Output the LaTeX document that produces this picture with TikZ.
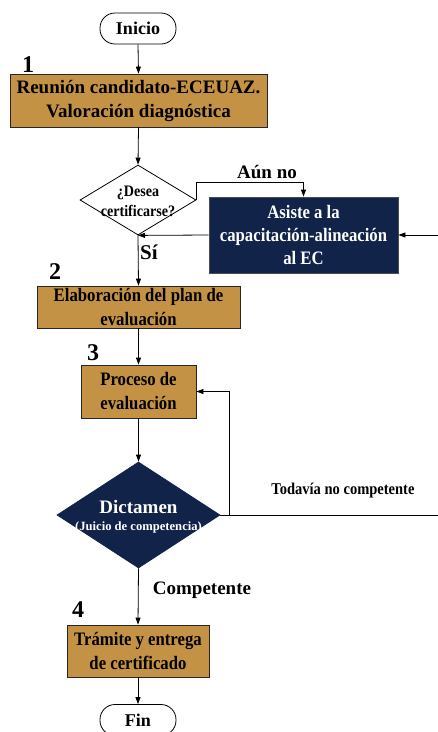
\documentclass[tikz,border=0pt]{standalone}
\usepackage{fontspec}
\setmainfont{Liberation Serif}
\newfontfamily\condfont[FakeStretch=0.88]{Liberation Serif}
\usetikzlibrary{shapes.geometric,arrows.meta}
\definecolor{mytan}{HTML}{C49245}
\definecolor{mynavy}{HTML}{12234A}
\begin{document}
\begin{tikzpicture}[x=1pt,y=-1pt,
  line width=0.8pt,
  arr/.style={-{Triangle[length=7pt,width=5pt]}},
  term/.style={draw, fill=white, rounded corners=15pt, minimum width=76pt, minimum height=31pt, inner sep=0pt, font=\fontsize{18}{20}\selectfont\bfseries},
  tanbox/.style={draw=black!85, fill=mytan, inner sep=0pt, align=center},
  navybox/.style={draw=black!70, fill=mynavy, text=white, inner sep=0pt, align=center},
  condtxt/.style={font=\condfont\bfseries\fontsize{19}{24}\selectfont},
  numlbl/.style={font=\fontsize{24}{26}\selectfont\bfseries, inner sep=0pt},
  edgelbl/.style={font=\fontsize{19}{22}\selectfont\bfseries, inner sep=0pt}
]
\clip (0,0) rectangle (438,732);
\fill[white] (0,0) rectangle (438,732);

% nodes
\node[term] (inicio) at (138,28.5) {Inicio};
\node[tanbox, minimum width=257pt, minimum height=53pt, font=\bfseries\fontsize{19}{24}\selectfont] (b1) at (138.5,100.5) {Reunión candidato-ECEUAZ.\\Valoración diagnóstica};
\node[draw, shape=diamond, fill=white, minimum width=116pt, minimum height=70pt, inner sep=0pt] (d1) at (138,200) {};
\node[align=center, inner sep=0pt, font=\condfont\bfseries\fontsize{16}{20}\selectfont] (d1t) at (138,201) {¿Desea\\certificarse?};
\node[navybox, condtxt, font=\condfont\bfseries\fontsize{19}{23}\selectfont, minimum width=189pt, minimum height=76pt] (asiste) at (303.5,235) {Asiste a la\\capacitación-alineación\\al EC};
\node[tanbox, condtxt, minimum width=203pt, minimum height=42pt] (b2) at (138.5,307) {Elaboración del plan de\\evaluación};
\node[tanbox, condtxt, minimum width=115pt, minimum height=53pt] (b3) at (138.5,391.5) {Proceso de\\evaluación};
\node[draw=mynavy, shape=diamond, fill=mynavy, minimum width=163pt, minimum height=106pt, inner sep=0pt] (d2) at (138.5,515) {};
\node[text=white, inner sep=0pt, font=\bfseries\fontsize{19}{22}\selectfont] (d2t) at (138.5,507) {Dictamen};
\node[text=white, inner sep=0pt, font=\bfseries\fontsize{12.6}{14}\selectfont] (d2s) at (138.5,527) {(Juicio de competencia)};
\node[tanbox, condtxt, minimum width=142pt, minimum height=52pt] (b4) at (138,651) {Trámite y entrega\\de certificado};
\node[term] (fin) at (138,720) {Fin};

% step numbers
\node[numlbl] (n1) at (28,65) {1};
\node[numlbl] (n2) at (55,272) {2};
\node[numlbl] (n3) at (93,353) {3};
\node[numlbl] (n4) at (78,610) {4};

% edge labels
\node[edgelbl] (aun) at (267,172.5) {Aún no};
\node[edgelbl, font=\fontsize{21}{24}\selectfont\bfseries] (si) at (149,252) {Sí};
\node[inner sep=0pt, font=\condfont\bfseries\fontsize{16.5}{20}\selectfont] (todavia) at (343,491) {Todavía no competente};
\node[edgelbl] (comp) at (202,590) {Competente};

% coordinates
\coordinate (inR) at (445,235);
\coordinate (outR) at (445,515);
\coordinate (fb) at (229,515);

% connectors
\draw[arr] (inicio.south) -- (b1.north);
\draw[arr] (b1.south) -- (d1.north);
\draw[arr] (d1.east) -- ++(0,-18) -| (asiste.north);
\draw[arr] (asiste.west) -- (d1.south);
\draw[arr] (inR) -- (asiste.east);
\draw[arr] (d1.south) -- (b2.north);
\draw[arr] (b2.south) -- (b3.north);
\draw[arr] (b3.south) -- (d2.north);
\draw (d2.east) -- (outR);
\draw[arr] (fb) |- (b3.east);
\draw[arr] (d2.south) -- (b4.north);
\draw[arr] (b4.south) -- (fin.north);
\end{tikzpicture}
\end{document}
